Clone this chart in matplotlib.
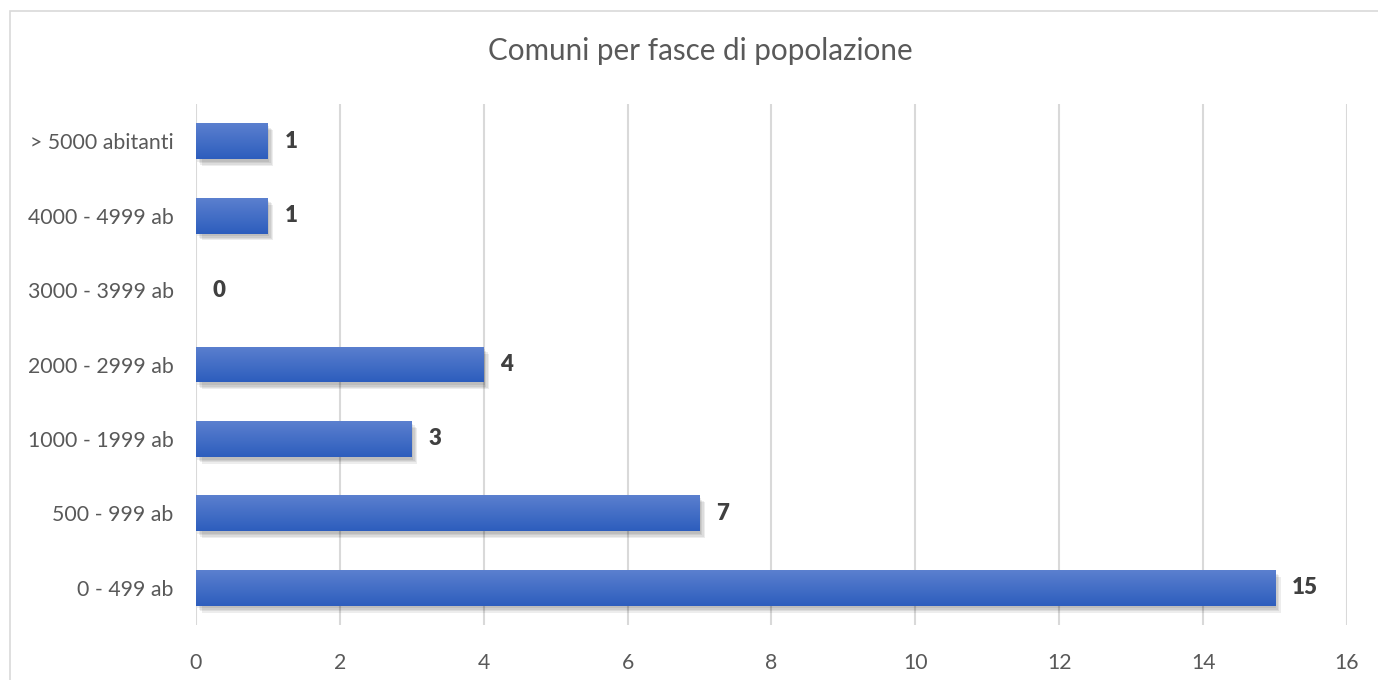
import matplotlib.pyplot as plt
import matplotlib.patheffects as pe
from matplotlib.patches import Rectangle
from matplotlib.colors import LinearSegmentedColormap
import numpy as np

# comuni per fascia di popolazione
fasce = ['0 - 499 ab', '500 - 999 ab', '1000 - 1999 ab', '2000 - 2999 ab',
         '3000 - 3999 ab', '4000 - 4999 ab', '> 5000 abitanti']
comuni = [15, 7, 3, 4, 0, 1, 1]
xticks = [0, 2, 4, 6, 8, 10, 12, 14, 16]

plt.rcParams['font.family'] = ['Lato', 'DejaVu Sans']

fig = plt.figure(figsize=(13.78, 6.8), dpi=100)
ax = fig.add_axes([0.1422, 0.0809, 0.8353, 0.7661])

y = np.arange(len(fasce))
# soft shadow: a few stacked offset shadows
shadow = [pe.SimplePatchShadow(offset=(o, -o - 1), shadow_rgbFace='#000000', alpha=0.07)
          for o in (1, 2, 3, 4)]
bars = ax.barh(y, comuni, height=0.48, color='#4472c4', zorder=3,
               path_effects=shadow + [pe.Normal()])

# gradient fill on each bar
grad = np.linspace(0, 1, 100).reshape(-1, 1)
cmap = LinearSegmentedColormap.from_list('g', ['#2d5dbd', '#5b80cf'])
for b in bars:
    if b.get_width() <= 0:
        continue
    x0, y0 = b.get_x(), b.get_y()
    w, h = b.get_width(), b.get_height()
    im = ax.imshow(grad, cmap=cmap, aspect='auto', origin='lower',
                   extent=[x0, x0 + w, y0, y0 + h], zorder=4)
    im.set_clip_path(b)

ax.bar_label(bars, labels=[str(v) for v in comuni], padding=12,
             fontsize=16, fontweight='heavy', color='#404040')

ax.set_xlim(0, 16)
ax.set_ylim(-0.5, len(fasce) - 0.5)
ax.set_xticks(xticks)
ax.set_yticks(y)
ax.set_yticklabels(fasce)
ax.tick_params(axis='both', length=0, labelsize=15.3, labelcolor='#595959')
ax.tick_params(axis='y', pad=16)
ax.tick_params(axis='x', pad=20)
ax.grid(axis='x', color='#d9d9d9', linewidth=1.5, zorder=0)
for s in ax.spines.values():
    s.set_visible(False)

fig.text(0.508, 0.925, 'Comuni per fasce di popolazione', ha='center', va='center',
         fontsize=21.3, color='#595959')

# chart area border
fig.patches.append(Rectangle((10 / 1378, -0.05), 1.1, (680 - 11) / 680 + 0.05,
                             transform=fig.transFigure, fill=False,
                             edgecolor='#d9d9d9', linewidth=1.2))

fig.savefig('out.png', dpi=100)
